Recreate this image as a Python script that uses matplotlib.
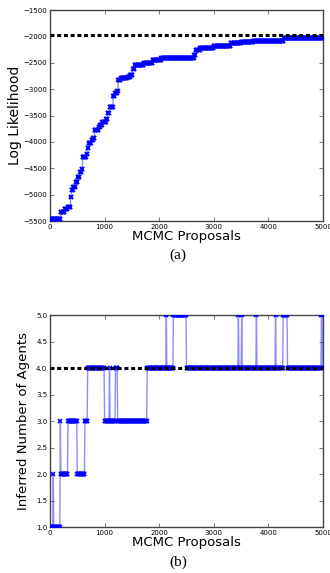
import numpy as np
import matplotlib
matplotlib.use("Agg")
import matplotlib.pyplot as plt

# sample grid of MCMC proposals
proposals = np.arange(0, 5001, 10)

# (a) log likelihood: step starts and levels
ll_starts = [0, 200, 270, 330, 380, 395, 425, 465, 505, 545, 575, 595, 665,
             690, 710, 760, 790, 820, 885, 920, 960, 1030, 1060, 1085, 1160,
             1185, 1230, 1245, 1300, 1420, 1470, 1520, 1545, 1720, 1880, 2040,
             2640, 2670, 2750, 3000, 3310, 3500, 3720, 4000, 4280, 4600]
ll_levels = [-5460, -5325, -5275, -5230, -5040, -4915, -4850, -4755, -4660,
             -4565, -4515, -4280, -4220, -4120, -4010, -3965, -3920, -3775,
             -3710, -3670, -3620, -3555, -3460, -3335, -3125, -3080, -3035,
             -2825, -2780, -2760, -2730, -2620, -2540, -2510, -2450, -2400,
             -2355, -2250, -2210, -2190, -2130, -2110, -2095, -2085, -2035,
             -2025]
ll_true = -1980

# (b) inferred number of agents
na_starts = [0, 60, 70, 190, 200, 330, 500, 640, 690, 1000, 1085, 1095, 1200,
             1235, 1780, 2130, 2140, 2260, 2500, 3445, 3455, 3505, 3515, 3780,
             3790, 4125, 4135, 4270, 4350, 4970, 4990]
na_levels = [1, 2, 1, 3, 2, 3, 2, 3, 4, 3, 4, 3, 4, 3, 4, 5, 4, 5, 4, 5, 4, 5,
             4, 5, 4, 5, 4, 5, 4, 5, 4]
na_true = 4


def expand(starts, levels):
    idx = np.searchsorted(starts, proposals, side='right') - 1
    return np.asarray(levels, dtype=float)[idx]


fig = plt.figure(figsize=(3.3, 5.73), dpi=100)
ax1 = fig.add_axes([0.1515, 0.614, 0.8275, 0.3685])
ax2 = fig.add_axes([0.1515, 0.080, 0.8275, 0.370])


def style(ax):
    for s in ax.spines.values():
        s.set_color('#444444')
        s.set_linewidth(1.0)
    ax.tick_params(direction='in', top=True, right=True, labelsize=5,
                   length=3, width=0.6, color='#666666', pad=2)
    ax.set_xlim(0, 5000)
    ax.set_xticks([0, 1000, 2000, 3000, 4000, 5000])


def draw(ax, y, true_val):
    ax.plot(proposals, y, '-', color='blue', alpha=0.45, lw=1.0, zorder=2)
    ax.plot(proposals, y, 'x', color='blue', ms=3.5, mew=1.2, zorder=3)
    ax.axhline(true_val, color='black', ls='--', lw=2.2, dashes=(1.3, 0.9),
               zorder=4)


ll = expand(ll_starts, ll_levels)
draw(ax1, ll, ll_true)
style(ax1)
ax1.set_ylim(-5500, -1500)
ax1.set_yticks(np.arange(-5500, -1499, 500))
ax1.set_ylabel('Log Likelihood', fontsize=10, labelpad=1)
ax1.set_xlabel('MCMC Proposals', fontsize=9.5, labelpad=0)

na = expand(na_starts, na_levels)
draw(ax2, na, na_true)
style(ax2)
ax2.set_ylim(1.0, 5.0)
ax2.set_yticks(np.arange(1.0, 5.01, 0.5))
ax2.set_yticklabels(['%.1f' % v for v in np.arange(1.0, 5.01, 0.5)])
ax2.set_ylabel('Inferred Number of Agents', fontsize=9.5, labelpad=4)
ax2.set_xlabel('MCMC Proposals', fontsize=9.5, labelpad=0)

fig.text(0.54, 0.555, '(a)', ha='center', va='center', fontsize=11,
         family='Liberation Serif')
fig.text(0.54, 0.019, '(b)', ha='center', va='center', fontsize=11,
         family='Liberation Serif')

fig.savefig('out.png', dpi=100)
